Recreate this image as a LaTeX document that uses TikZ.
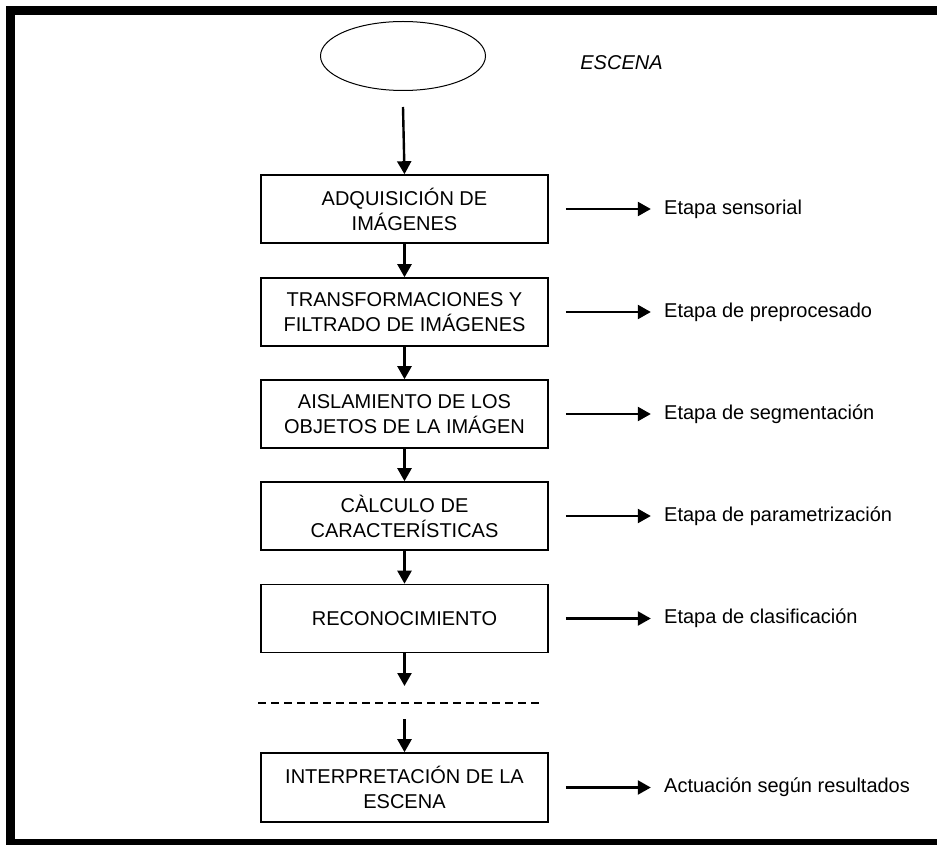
\documentclass[tikz,border=0pt]{standalone}
\usepackage{fontspec}
\setmainfont{Liberation Sans}
\usepackage{tikz}
\usetikzlibrary{arrows.meta,shapes.geometric,positioning}
\tikzset{
  marco/.style={line width=4.5pt, draw=black},
  escena/.style={ellipse, draw, line width=0.5pt, minimum width=82.5pt, minimum height=34.5pt},
  etapa/.style={draw, line width=0.8pt, minimum width=143.5pt, minimum height=34pt,
    inner sep=0pt, align=center, font=\fontsize{10}{12.5}\selectfont},
  flecha/.style={-{Triangle[length=6.5pt,width=7pt]}, line width=1.2pt},
  corte/.style={line width=0.9pt, dash pattern=on 4pt off 2.5pt},
  lab/.style={inner sep=0pt, font=\fontsize{10}{12}\selectfont},
  labi/.style={lab, font=\fontsize{10}{12}\selectfont\itshape}
}
\begin{document}
\begin{tikzpicture}[x=0.5pt,y=-0.5pt]
  \path[use as bounding box, clip] (0,0) rectangle (937,845);
  \draw[marco] (960,11) -- (10,11) -- (10,843) -- (960,843);

  \node[escena] (esc) at (403,56) {};
  \node[labi,anchor=west] (tesc) at (580,63) {ESCENA};

  \node[etapa] (adq) at (404.5,209) {ADQUISICIÓN DE\\IMÁGENES};
  \node[etapa] (trf) at (404.5,312) {TRANSFORMACIONES Y\\FILTRADO DE IMÁGENES};
  \node[etapa] (ais) at (404.5,414) {AISLAMIENTO DE LOS\\OBJETOS DE LA IMÁGEN};
  \node[etapa] (cal) at (404.5,516) {CÀLCULO DE\\CARACTERÍSTICAS};
  \node[etapa] (rec) at (404.5,618.5) {RECONOCIMIENTO};
  \node[etapa, minimum height=34.5pt] (int) at (404.5,787.5) {INTERPRETACIÓN DE LA\\ESCENA};

  % corte entre reconocimiento e interpretacion
  \coordinate (c1) at (404.5,686);
  \coordinate (c2) at (404.5,719);
  \coordinate (d1) at (258,703);
  \coordinate (d2) at (542,703);
  \draw[corte] (d1) -- (d2);

  \draw[flecha] ([yshift=-8pt]esc.south) -- (adq.north);
  \draw[flecha] (adq) -- (trf);
  \draw[flecha] (trf) -- (ais);
  \draw[flecha] (ais) -- (cal);
  \draw[flecha] (cal) -- (rec);
  \draw[flecha] (rec.south) -- (c1);
  \draw[flecha] (c2) -- (int.north);

  \node[lab, right=57.5pt of adq] (l1) {Etapa sensorial};
  \node[lab, right=57.5pt of trf] (l2) {Etapa de preprocesado};
  \node[lab, right=57.5pt of ais] (l3) {Etapa de segmentación};
  \node[lab, right=57.5pt of cal] (l4) {Etapa de parametrización};
  \node[lab, right=57.5pt of rec] (l5) {Etapa de clasificación};
  \node[lab, right=57.5pt of int] (l6) {Actuación según resultados};

  \draw[flecha] ([xshift=8.5pt]adq.east) -- ([xshift=-6.5pt]l1.west);
  \draw[flecha] ([xshift=8.5pt]trf.east) -- ([xshift=-6.5pt]l2.west);
  \draw[flecha] ([xshift=8.5pt]ais.east) -- ([xshift=-6.5pt]l3.west);
  \draw[flecha] ([xshift=8.5pt]cal.east) -- ([xshift=-6.5pt]l4.west);
  \draw[flecha] ([xshift=8.5pt]rec.east) -- ([xshift=-6.5pt]l5.west);
  \draw[flecha] ([xshift=8.5pt]int.east) -- ([xshift=-6.5pt]l6.west);
\end{tikzpicture}
\end{document}
